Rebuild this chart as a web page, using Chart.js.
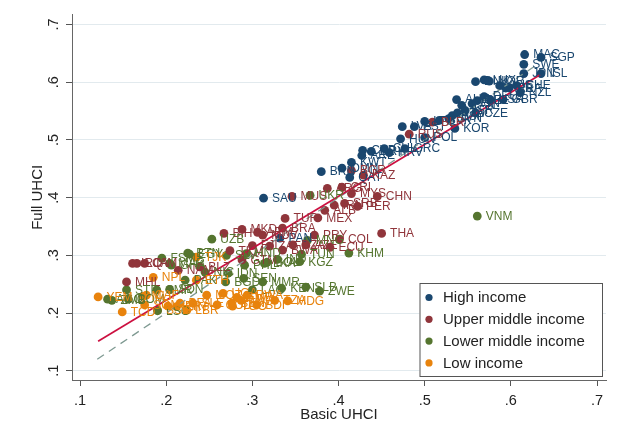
<!DOCTYPE html>
<html><head><meta charset="utf-8">
<script src="https://cdn.jsdelivr.net/npm/chart.js@4/dist/chart.umd.min.js"></script>
<style>html,body{margin:0;padding:0;background:#fff}#wrap{width:619px;height:433px}</style>
</head><body><div id="wrap"><canvas id="c"></canvas></div>
<script>
const FONT = '"Liberation Sans", Arial, Helvetica, sans-serif';
const xTicks = [0.1,0.2,0.3,0.4,0.5,0.6,0.7];
const yTicks = [0.1,0.2,0.3,0.4,0.5,0.6,0.7];
const groupNames = ['High income','Upper middle income','Lower middle income','Low income'];
const groupColors = ['#1a476f','#90353b','#55752f','#e8830d'];

const hiLab = ['MAC','SGP','SWE','JPN','ISL','NOR','DNK','LUX','CHE','AUS','IRL','FRA','NZL','GBR','USA','DEU','BEL','FIN','AUT','CAN','ISR','ESP','SVN','CZE','ITA','SVK','KOR','LTU','EST','LVA','HUN','POL','CHL','URY','GRC','HRV','KWT','OMN','BRN','QAT','ARE','CYP','SAU','PAN'];
const hiX = [0.616,0.635,0.615,0.615,0.635,0.575,0.559,0.569,0.607,0.587,0.594,0.598,0.611,0.591,0.576,0.569,0.561,0.555,0.537,0.543,0.547,0.532,0.528,0.559,0.538,0.517,0.535,0.500,0.488,0.474,0.472,0.500,0.453,0.438,0.477,0.459,0.415,0.404,0.380,0.413,0.427,0.428,0.313,0.332];
const hiY = [0.648,0.643,0.631,0.615,0.615,0.602,0.601,0.604,0.594,0.594,0.590,0.590,0.582,0.570,0.570,0.575,0.568,0.563,0.570,0.560,0.551,0.542,0.537,0.547,0.547,0.534,0.520,0.532,0.523,0.523,0.502,0.504,0.485,0.480,0.485,0.478,0.461,0.451,0.445,0.435,0.473,0.482,0.399,0.330];

const umLab = ['BLR','RUS','BGR','KAZ','MUS','ARG','CRI','MYS','SRB','CHN','PER','IRN','ALB','MEX','TUR','MKD','BRA','PRY','COL','THA','ECU','BIH','ARM','MDV','DZA','FJI','GTM','IRQ','LCA','JAM','NAM','MHL','AZE','ZAF','BWA','BLZ','TKM'];
const umX = [0.509,0.482,0.415,0.429,0.346,0.387,0.404,0.415,0.407,0.445,0.422,0.395,0.384,0.376,0.338,0.288,0.335,0.372,0.401,0.450,0.390,0.267,0.306,0.312,0.347,0.300,0.288,0.161,0.166,0.175,0.214,0.154,0.362,0.320,0.335,0.239,0.274];
const umY = [0.531,0.510,0.447,0.439,0.402,0.416,0.418,0.407,0.390,0.402,0.385,0.387,0.378,0.365,0.364,0.345,0.347,0.335,0.328,0.338,0.314,0.338,0.340,0.335,0.318,0.317,0.292,0.286,0.286,0.286,0.274,0.254,0.318,0.316,0.309,0.280,0.308];

const lmLab = ['VNM','MNG','UKR','KHM','TUN','KGZ','IND','LKA','PHL','MMR','KEN','SLB','ZWE','UZB','EGY','FSM','BTN','SLV','HND','BOL','MAR','GHA','PAK','NIC','IDN','BGD','SEN','STP','CMR','SDN','AGO','ZMB','COM','LSO','LAO'];
const lmX = [0.561,0.364,0.367,0.412,0.357,0.355,0.329,0.314,0.291,0.312,0.334,0.362,0.378,0.253,0.227,0.195,0.225,0.270,0.293,0.317,0.204,0.206,0.222,0.245,0.272,0.269,0.290,0.154,0.189,0.204,0.132,0.137,0.156,0.190,0.300];
const lmY = [0.368,0.326,0.404,0.304,0.302,0.289,0.293,0.286,0.283,0.254,0.243,0.245,0.238,0.328,0.302,0.295,0.304,0.300,0.303,0.288,0.286,0.283,0.257,0.271,0.269,0.254,0.260,0.240,0.240,0.241,0.224,0.222,0.224,0.204,0.240];

const loLab = ['NPL','ETH','TJK','YEM','TCD','MLI','SOM','CAF','SSD','NER','GIN','BFA','LBR','SLE','MOZ','COD','UGA','TGO','GMB','RWA','BDI','MWI','TZA','MDG','BEN'];
const loX = [0.185,0.235,0.235,0.121,0.149,0.173,0.175,0.177,0.190,0.202,0.212,0.216,0.224,0.231,0.247,0.259,0.266,0.277,0.282,0.294,0.305,0.287,0.326,0.341,0.276];
const loY = [0.262,0.257,0.297,0.228,0.202,0.229,0.214,0.231,0.205,0.212,0.211,0.217,0.205,0.217,0.231,0.214,0.234,0.212,0.227,0.231,0.214,0.222,0.222,0.221,0.217];

const fitX = [0.121,0.634];
const fitY = [0.151,0.613];
const diagX = [0.12,0.63];
const diagY = [0.12,0.63];

const groupX = [hiX,umX,lmX,loX];
const groupY = [hiY,umY,lmY,loY];
const groupLab = [hiLab,umLab,lmLab,loLab];

const fmt = v => '.' + Math.round(v*10);
const pts = (xs,ys) => xs.map((v,i)=>({x:v,y:ys[i]}));

const datasets = [];
datasets.push({label:'fit', data:pts(fitX,fitY), showLine:true, borderColor:'#cc1040', borderWidth:1.7, pointRadius:0, order:0});
datasets.push({label:'diag', data:pts(diagX,diagY), showLine:true, borderColor:'#7f9a92', borderWidth:1.3, borderDash:[8,6], pointRadius:0, order:0});
groupNames.forEach((n,g)=>{
  datasets.push({label:n, data:pts(groupX[g],groupY[g]), codes:groupLab[g], backgroundColor:groupColors[g], borderWidth:0, pointRadius:4.4, order:1, isGroup:true});
});

const labelPlugin = {
  id:'ptLabels',
  afterDatasetsDraw(chart){
    const ctx = chart.ctx; ctx.save();
    ctx.font = '12px ' + FONT; ctx.textBaseline = 'middle'; ctx.textAlign = 'left';
    chart.data.datasets.forEach((ds,i)=>{
      if(!ds.codes) return;
      const meta = chart.getDatasetMeta(i);
      ctx.fillStyle = ds.backgroundColor;
      meta.data.forEach((p,j)=>{ ctx.fillText(ds.codes[j], p.x+8.5, p.y+0.5); });
    });
    ctx.restore();
  }
};

const legendPlugin = {
  id:'boxLegend',
  afterDraw(chart){
    const ca = chart.chartArea, ctx = chart.ctx;
    const L = ca.right-186.5, T = ca.bottom-97, R = ca.right-4, B = ca.bottom-4;
    ctx.save();
    ctx.fillStyle = '#fff'; ctx.fillRect(L,T,R-L,B-T);
    ctx.strokeStyle = '#555'; ctx.lineWidth = 1; ctx.strokeRect(L+0.5,T+0.5,R-L,B-T);
    ctx.font = '15px ' + FONT; ctx.textBaseline = 'middle'; ctx.textAlign = 'left';
    groupNames.forEach((n,g)=>{
      const y = T + 14.5 + g*21.8;
      ctx.fillStyle = groupColors[g];
      ctx.beginPath(); ctx.arc(L+9.5, y, 3.6, 0, Math.PI*2); ctx.fill();
      ctx.fillStyle = '#222'; ctx.fillText(n, L+23.5, y+0.5);
    });
    ctx.restore();
  }
};

new Chart(document.getElementById('c'), {
  type:'scatter',
  data:{datasets},
  plugins:[labelPlugin, legendPlugin],
  options:{
    responsive:true, maintainAspectRatio:false, animation:false,
    layout:{padding:{top:14,right:13,left:0,bottom:0}},
    plugins:{legend:{display:false}, tooltip:{enabled:false}},
    scales:{
      x:{type:'linear', min:0.0907, max:0.7104,
        afterBuildTicks(s){ s.ticks = xTicks.map(v=>({value:v})); },
        afterFit(s){ s.height = 53; },
        ticks:{callback:fmt, font:{size:14.5, family:FONT}, color:'#222', padding:6, maxRotation:0, autoSkip:false},
        grid:{color:'rgba(0,0,0,0)', drawOnChartArea:false, tickColor:'#555', tickLength:6},
        border:{color:'#666', width:1},
        title:{display:true, text:'Basic UHCI', font:{size:15, family:FONT}, color:'#222', padding:{top:0,bottom:9}}
      },
      y:{type:'linear', min:0.084, max:0.717,
        afterBuildTicks(s){ s.ticks = yTicks.map(v=>({value:v})); },
        afterFit(s){ s.width = 72; },
        ticks:{callback:fmt, font:{size:14.5, family:FONT}, color:'#222', padding:6, minRotation:90, maxRotation:90, crossAlign:'center', autoSkip:false},
        grid:{color:'#e2eaee', tickColor:'#555', tickLength:6, lineWidth:1},
        border:{color:'#666', width:1},
        title:{display:true, text:'Full UHCI', font:{size:15, family:FONT}, color:'#222', padding:{top:29,bottom:0}}
      }
    }
  }
});
</script></body></html>
